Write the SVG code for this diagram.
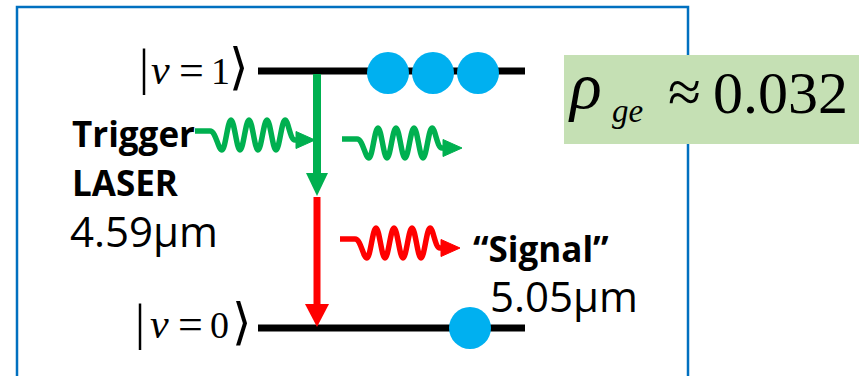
<svg xmlns="http://www.w3.org/2000/svg" xmlns:xlink="http://www.w3.org/1999/xlink" width="859" height="376" viewBox="0 0 859 376">
<style>
.frame{fill:none;stroke:#0070C0;stroke-width:2.5}
.level{stroke:#000;stroke-width:7}
.dot{fill:#00B0F0}
.math{font-family:"Liberation Serif","Times New Roman",serif;fill:#000}
.delim{font-family:"Liberation Serif","DejaVu Serif","DejaVu Sans",serif;font-size:50px}
.var{font-size:42px;font-style:italic}
.eq{font-size:44px}
.num{font-size:38px}
.lbl{font-family:"Open Sans","Liberation Sans",sans-serif;fill:#000}
.b{font-weight:bold;font-size:35px}
.r{font-size:42px}
.wave{fill:none;stroke-width:5.5;stroke-linejoin:round}
</style>
<defs>
<g id="wave">
<path class="wave" d="M0,0 H15 C21,0 23,19 27,19 C30.3,19 32.7,-11 36,-11 C39.3,-11 41.7,19 45,19 C48.3,19 50.7,-11 54,-11 C57.3,-11 59.7,19 63,19 C66.3,19 68.7,-11 72,-11 C75.3,-11 77.7,19 81,19 C84.3,19 86.7,-11 90,-11 C93.3,-11 95,9 100,9 H103"/>
<polygon points="101,0.5 120,9 101,17.5"/>
</g>
</defs>
<rect class="frame" x="17" y="7" width="671" height="400"/>
<rect id="ratio-box" x="564" y="55" width="300" height="89" fill="#C5E0B4"/>
<g id="ratio">
<text class="math" x="570" y="108" font-size="66" font-style="italic">ρ</text>
<text class="math" x="612" y="122" font-size="33" font-style="italic">ge</text>
<text class="math" x="668" y="112" font-size="60">≈</text>
<text class="math" x="713" y="113" font-size="60">0.032</text>
</g>
<g id="level-v1">
<line class="level" x1="258" y1="71" x2="525" y2="71"/>
<text class="math delim" x="139" y="84">|</text>
<text class="math var" x="151" y="84">v</text>
<text class="math eq" x="179" y="85">=</text>
<text class="math num" x="211" y="84">1</text>
<text class="math delim" x="229" y="84">⟩</text>
</g>
<g id="level-v0">
<line class="level" x1="258" y1="328" x2="525" y2="328"/>
<text class="math delim" x="135" y="339">|</text>
<text class="math var" x="150" y="338">v</text>
<text class="math eq" x="178" y="339">=</text>
<text class="math num" x="210" y="338">0</text>
<text class="math delim" x="232" y="339">⟩</text>
</g>
<g id="population-v1">
<circle class="dot" cx="388" cy="73" r="21"/>
<circle class="dot" cx="433" cy="73" r="21"/>
<circle class="dot" cx="478" cy="73" r="21"/>
</g>
<g id="population-v0">
<circle class="dot" cx="470" cy="328" r="21"/>
</g>
<g id="connectors">
<line x1="317" y1="74" x2="317" y2="176" stroke="#00B050" stroke-width="8"/>
<polygon points="306,173 328,173 317,196" fill="#00B050"/>
<line x1="317" y1="197" x2="317" y2="306" stroke="#FF0000" stroke-width="7"/>
<polygon points="305,304 329,304 317,327" fill="#FF0000"/>
<use xlink:href="#wave" transform="translate(195,131)" stroke="#00B050" fill="#00B050"/>
<use xlink:href="#wave" transform="translate(342,139)" stroke="#00B050" fill="#00B050"/>
<use xlink:href="#wave" transform="translate(340,239)" stroke="#FF0000" fill="#FF0000"/>
</g>
<g id="trigger-label">
<text class="lbl b" x="72" y="147">Trigger</text>
<text class="lbl b" x="72" y="196">LASER</text>
<text class="lbl r" x="70" y="247">4.59μm</text>
</g>
<g id="signal-label">
<text class="lbl b" x="473" y="262">“Signal”</text>
<text class="lbl r" x="490" y="312">5.05μm</text>
</g>
</svg>
